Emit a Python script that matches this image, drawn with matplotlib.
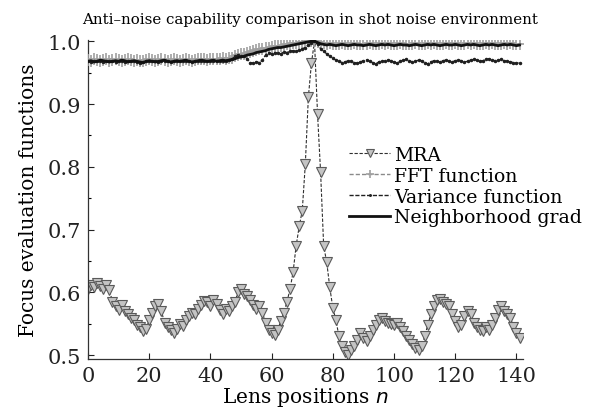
import matplotlib
matplotlib.use("Agg")
import matplotlib.pyplot as plt
import numpy as np
from matplotlib.ticker import MultipleLocator

plt.rcParams['font.family'] = ['DejaVu Serif']

title = "Anti\u2013noise capability comparison in shot noise environment"
xlabel = "Lens positions $n$"
ylabel = "Focus evaluation functions"
labels = ["MRA", "FFT function", "Variance function", "Neighborhood grad"]
xticks = [0, 20, 40, 60, 80, 100, 120, 140]
yticks = [0.5, 0.6, 0.7, 0.8, 0.9, 1.0]

lens_pos = list(range(142))

mra = [0.605, 0.612, 0.608, 0.615, 0.610, 0.606, 0.612, 0.604,
       0.585, 0.578, 0.572, 0.580, 0.570, 0.566,
       0.560, 0.556, 0.548, 0.545, 0.538, 0.542,
       0.556, 0.568, 0.578, 0.582, 0.570,
       0.552, 0.545, 0.540, 0.536, 0.542, 0.550, 0.546,
       0.556, 0.562, 0.568, 0.565, 0.574, 0.580, 0.586,
       0.584, 0.578, 0.588, 0.582,
       0.572, 0.566, 0.574, 0.570, 0.578, 0.585,
       0.600, 0.606, 0.598, 0.594, 0.588,
       0.580, 0.574, 0.578, 0.568, 0.552,
       0.540, 0.535, 0.532, 0.540, 0.555,
       0.568, 0.585, 0.605,
       0.632, 0.674, 0.705, 0.730, 0.804, 0.911, 0.965,
       1.000,
       0.884, 0.791, 0.674, 0.648, 0.608, 0.575,
       0.556, 0.530, 0.515, 0.505, 0.500, 0.508, 0.515, 0.525,
       0.535, 0.528, 0.522, 0.530, 0.540, 0.548,
       0.556, 0.560, 0.555, 0.552, 0.550, 0.548, 0.552, 0.545, 0.538,
       0.530, 0.525, 0.518, 0.512, 0.508, 0.515, 0.530, 0.548,
       0.565, 0.578, 0.588, 0.590,
       0.585, 0.582, 0.578, 0.565, 0.555, 0.545,
       0.548, 0.562, 0.570, 0.566, 0.552,
       0.545, 0.540, 0.538, 0.545, 0.540, 0.548, 0.560,
       0.572, 0.578, 0.570, 0.565, 0.560,
       0.545, 0.535, 0.528]

grad = [0.968, 0.969, 0.967, 0.968, 0.970, 0.969, 0.968, 0.967, 0.968, 0.969,
        0.968, 0.970, 0.969, 0.967, 0.968, 0.969, 0.968, 0.967, 0.966, 0.968,
        0.969, 0.968, 0.967, 0.968, 0.969, 0.970, 0.968, 0.967, 0.968, 0.969,
        0.968, 0.969, 0.970, 0.968, 0.967, 0.968, 0.969, 0.970, 0.969, 0.968,
        0.969, 0.970, 0.968, 0.969, 0.970, 0.969, 0.970, 0.971,
        0.972, 0.974, 0.975, 0.976, 0.978, 0.979, 0.980, 0.982, 0.983, 0.984,
        0.985, 0.987, 0.988, 0.989, 0.990, 0.990, 0.991, 0.992, 0.993, 0.994,
        0.995, 0.996, 0.997, 0.998, 0.999, 1.000, 1.000, 0.998, 0.996,
        0.995, 0.994, 0.995, 0.994, 0.993, 0.994, 0.995, 0.994, 0.993, 0.994,
        0.995, 0.994, 0.994, 0.993, 0.994, 0.995, 0.994, 0.993, 0.994, 0.995,
        0.994, 0.995, 0.994, 0.993, 0.994, 0.995, 0.994, 0.994, 0.993, 0.994,
        0.995, 0.994, 0.993, 0.994, 0.995, 0.994, 0.995, 0.994, 0.993, 0.994,
        0.995, 0.994, 0.994, 0.995, 0.994, 0.993, 0.994, 0.995, 0.994, 0.995,
        0.994, 0.993, 0.994, 0.995, 0.994, 0.995, 0.994, 0.993, 0.994, 0.995,
        0.994, 0.995, 0.994, 0.993, 0.994]

fft = [0.970, 0.969, 0.971, 0.970, 0.969, 0.970, 0.971, 0.969, 0.970, 0.971,
       0.970, 0.969, 0.970, 0.971, 0.970, 0.969, 0.970, 0.969, 0.968, 0.970,
       0.971, 0.970, 0.969, 0.970, 0.971, 0.970, 0.969, 0.970, 0.971, 0.970,
       0.969, 0.970, 0.971, 0.970, 0.969, 0.970, 0.971, 0.972, 0.971, 0.970,
       0.971, 0.972, 0.971, 0.972, 0.973, 0.972, 0.973, 0.974,
       0.976, 0.978, 0.979, 0.980, 0.982, 0.983, 0.984, 0.986, 0.987, 0.988,
       0.989, 0.990, 0.991, 0.992, 0.993, 0.993, 0.994, 0.995, 0.996, 0.997,
       0.997, 0.998, 0.999, 0.999, 1.000, 1.000, 1.000, 0.999, 0.998,
       0.997, 0.996, 0.997, 0.996, 0.995, 0.996, 0.997, 0.996, 0.995, 0.996,
       0.997, 0.996, 0.996, 0.995, 0.996, 0.997, 0.996, 0.995, 0.996, 0.997,
       0.996, 0.997, 0.996, 0.995, 0.996, 0.997, 0.996, 0.996, 0.995, 0.996,
       0.997, 0.996, 0.995, 0.996, 0.997, 0.996, 0.997, 0.996, 0.995, 0.996,
       0.997, 0.996, 0.996, 0.997, 0.996, 0.995, 0.996, 0.997, 0.996, 0.997,
       0.996, 0.995, 0.996, 0.997, 0.996, 0.997, 0.996, 0.995, 0.996, 0.997,
       0.996, 0.997, 0.996, 0.995, 0.996]

variance = [0.968, 0.967, 0.968, 0.969, 0.968, 0.967, 0.968, 0.969, 0.968, 0.967,
            0.969, 0.968, 0.967, 0.968, 0.969, 0.968, 0.967, 0.966, 0.967, 0.968,
            0.968, 0.969, 0.968, 0.967, 0.968, 0.969, 0.968, 0.967, 0.968, 0.968,
            0.969, 0.968, 0.969, 0.968, 0.967, 0.968, 0.969, 0.968, 0.969, 0.968,
            0.968, 0.969, 0.968, 0.969, 0.968, 0.969, 0.970, 0.971,
            0.976, 0.978, 0.977, 0.976, 0.972,
            0.966, 0.965, 0.967, 0.966, 0.970,
            0.978, 0.981, 0.980, 0.982, 0.981, 0.980, 0.983, 0.982,
            0.984, 0.985, 0.984, 0.986, 0.988, 0.990, 0.994,
            0.998, 1.000,
            0.995, 0.988, 0.984, 0.980, 0.976, 0.973, 0.970, 0.968,
            0.966, 0.967, 0.969, 0.968, 0.966, 0.965, 0.967, 0.969, 0.970, 0.968,
            0.966, 0.964, 0.967, 0.969, 0.968, 0.970, 0.969, 0.967, 0.965, 0.968,
            0.970, 0.971, 0.969, 0.967, 0.968, 0.970, 0.969, 0.966, 0.964, 0.967,
            0.969, 0.968, 0.967, 0.969, 0.970, 0.968, 0.967, 0.969, 0.970, 0.969,
            0.967, 0.968, 0.970, 0.971, 0.970, 0.968, 0.969, 0.971, 0.972, 0.970,
            0.969, 0.970, 0.971, 0.969, 0.968, 0.967, 0.966, 0.965, 0.966]

fig = plt.figure(figsize=(5.97, 4.10), dpi=100)
ax = fig.add_axes([0.1474, 0.122, 0.728, 0.778])

ax.plot(lens_pos, mra, linestyle=(0, (3, 1.5)), color='#303030', lw=0.8,
        marker='v', markersize=7, markerfacecolor='#c4c4c4',
        markeredgecolor='#5a5a5a', markeredgewidth=0.8, label=labels[0], zorder=2)
ax.plot(lens_pos, fft, linestyle=(0, (3, 1.5)), color='#8a8a8a', lw=1.0,
        marker='+', markersize=8, markeredgewidth=1.2, markeredgecolor='#a0a0a0',
        label=labels[1], zorder=3)
ax.plot(lens_pos, variance, linestyle=(0, (3, 1.2)), color='#202020', lw=1.0,
        marker='.', markersize=3, label=labels[2], zorder=4)
ax.plot(lens_pos, grad, linestyle='-', color='#111111', lw=2.0,
        label=labels[3], zorder=5)

ax.set_xlim(0, 142)
ax.set_ylim(0.494, 1.002)
ax.set_xticks(xticks)
ax.set_yticks(yticks)
ax.set_yticklabels([f"{v:.1f}" for v in yticks])
ax.yaxis.set_minor_locator(MultipleLocator(0.05))
ax.tick_params(direction='in', labelsize=15, length=4, width=0.8, colors='#222222', pad=5)
ax.tick_params(which='minor', direction='in', length=2.5, width=0.8)
for s in ['top', 'right']:
    ax.spines[s].set_visible(False)
for s in ['left', 'bottom']:
    ax.spines[s].set_linestyle((0, (4, 1)))
    ax.spines[s].set_linewidth(0.9)
    ax.spines[s].set_color('#333333')

ax.set_xlabel(xlabel, fontsize=14.5, labelpad=0)
ax.set_ylabel(ylabel, fontsize=14.5, labelpad=7)
fig.text(0.519, 0.951, title, ha='center', va='center', fontsize=10.8)

ax.legend(loc='upper left', bbox_to_anchor=(0.6, 0.668), frameon=False,
          fontsize=13.6, handlelength=2.2, handletextpad=0.2, labelspacing=0.15,
          borderaxespad=0, borderpad=0, markerscale=0.75)

fig.savefig("out.png", dpi=100)
